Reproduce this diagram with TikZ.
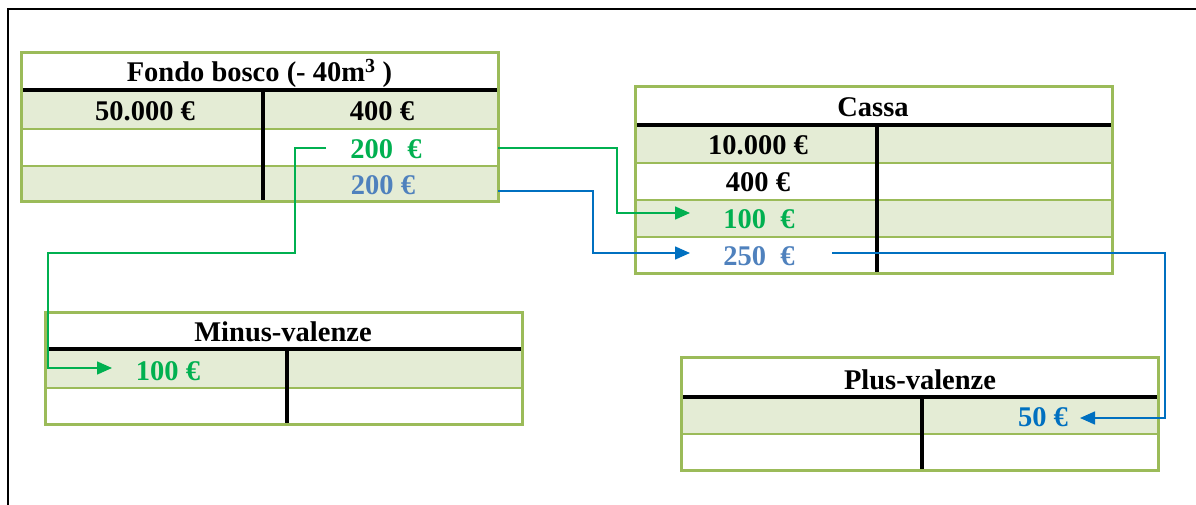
\documentclass[tikz,border=0pt]{standalone}
\usepackage{fontspec}
\setmainfont{Liberation Serif}
\usetikzlibrary{arrows.meta}
\definecolor{tgreen}{HTML}{9BBB59}
\definecolor{tfill}{HTML}{E4ECD5}
\definecolor{ggreen}{HTML}{00B050}
\definecolor{lblue}{HTML}{4F81BD}
\definecolor{dblue}{HTML}{0070C0}
\begin{document}
\begin{tikzpicture}[x=1pt,y=-1pt,
  tbox/.style={draw=tgreen,line width=3pt},
  tline/.style={draw=tgreen,line width=2.5pt},
  tbar/.style={draw=black,line width=4.5pt},
  rowfill/.style={fill=tfill},
  lbl/.style={font=\fontsize{28.5}{33}\selectfont\bfseries,inner sep=0pt,anchor=base},
  gline/.style={draw=ggreen,line width=1.6pt,line join=miter},
  bline/.style={draw=dblue,line width=1.6pt,line join=miter},
  arr/.style={-{Triangle[length=15pt,width=13pt]}}]
\useasboundingbox (0,0) rectangle (1196,505);
% outer frame
\draw[line width=2pt] (8,505) -- (8,9) -- (1196,9);

% ---------- Fondo bosco ----------
\fill[rowfill] (21,90) rectangle (498,129);
\fill[rowfill] (21,166) rectangle (498,202);
\draw[tline] (21,129) -- (498,129) (21,166) -- (498,166);
\draw[tbar] (21,90) -- (498,90);
\draw[tbar] (263,90) -- (263,202);
\draw[tbox] (21,53) rectangle (498,202);
\node[lbl] (fbT) at (259.5,82) {Fondo bosco (- 40m\textsuperscript{3} )};
\node[lbl] (fbA) at (145,121) {50.000 €};
\node[lbl] (fbB) at (382,121) {400 €};
\node[lbl,text=ggreen] (fbG) at (386,159) {200~~€};
\node[lbl,text=lblue] (fbL) at (383,194) {200 €};

% ---------- Cassa ----------
\fill[rowfill] (635,125) rectangle (1112,163);
\fill[rowfill] (635,200) rectangle (1112,237);
\draw[tline] (635,163) -- (1112,163) (635,200) -- (1112,200) (635,237) -- (1112,237);
\draw[tbar] (635,125) -- (1112,125);
\draw[tbar] (877,125) -- (877,273);
\draw[tbox] (635,87) rectangle (1112,273);
\node[lbl] (caT) at (873,117) {Cassa};
\node[lbl] (caA) at (758,155) {10.000 €};
\node[lbl] (caB) at (758,192) {400 €};
\node[lbl,text=ggreen] (caG) at (759,229) {100~~€};
\node[lbl,text=lblue] (caL) at (759,265) {250~~€};

% ---------- Minus-valenze ----------
\fill[rowfill] (45,349) rectangle (522,388);
\draw[tline] (45,388) -- (522,388);
\draw[tbar] (45,349) -- (522,349);
\draw[tbar] (287,349) -- (287,424);
\draw[tbox] (45,312) rectangle (522,424);
\node[lbl] (mvT) at (283,341) {Minus-valenze};
\node[lbl,text=ggreen] (mvG) at (168,380) {100 €};

% ---------- Plus-valenze ----------
\fill[rowfill] (681,397) rectangle (1158,434);
\draw[tline] (681,434) -- (1158,434);
\draw[tbar] (681,397) -- (1158,397);
\draw[tbar] (922,397) -- (922,470);
\draw[tbox] (681,357) rectangle (1158,470);
\node[lbl] (pvT) at (920,389) {Plus-valenze};
\node[lbl,text=dblue] (pvB) at (1043,426) {50 €};

% ---------- connectors ----------
\coordinate (g1s) at (326,148);
\coordinate (g1e) at (112,368);
\draw[gline,arr] (g1s) -- (295,148) -- (295,253) -- (48,253) -- (48,368) -- (g1e);
\coordinate (g2s) at (498,148);
\coordinate (g2e) at (690,213);
\draw[gline,arr] (g2s) -- (617,148) -- (617,213) -- (g2e);
\coordinate (b1s) at (498,191);
\coordinate (b1e) at (690,253);
\draw[bline,arr] (b1s) -- (593,191) -- (593,253) -- (b1e);
\coordinate (b2s) at (832,253);
\coordinate (b2e) at (1080,418);
\draw[bline,arr] (b2s) -- (1165,253) -- (1165,418) -- (b2e);
\end{tikzpicture}
\end{document}
